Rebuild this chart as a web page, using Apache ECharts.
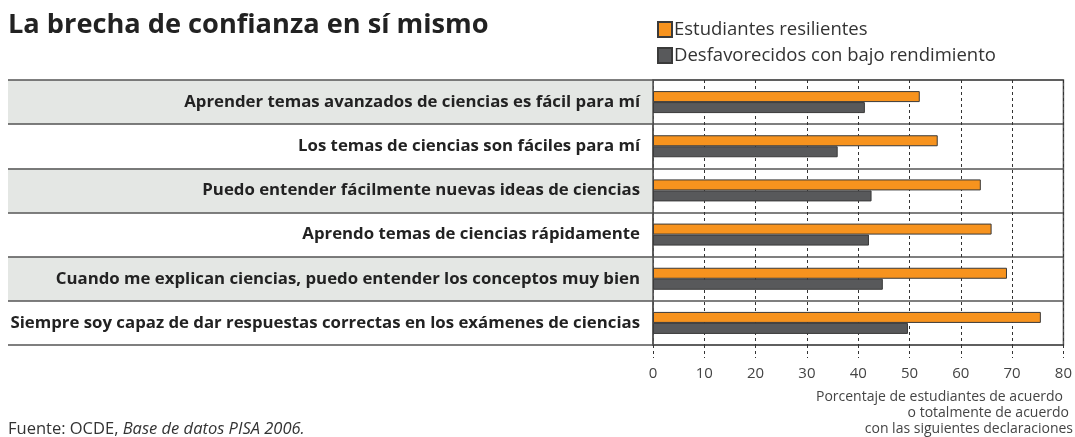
<!DOCTYPE html>
<html><head><meta charset="utf-8">
<script src="https://cdn.jsdelivr.net/npm/echarts@6/dist/echarts.min.js"></script>
<style>html,body{margin:0;padding:0;background:#fff}#c{width:1075px;height:437px}</style>
</head><body><div id="c"></div>
<script>
const categories = [
  "Aprender temas avanzados de ciencias es fácil para mí",
  "Los temas de ciencias son fáciles para mí",
  "Puedo entender fácilmente nuevas ideas de ciencias",
  "Aprendo temas de ciencias rápidamente",
  "Cuando me explican ciencias, puedo entender los conceptos muy bien",
  "Siempre soy capaz de dar respuestas correctas en los exámenes de ciencias"
];
const resilientes = [52.0, 55.5, 63.9, 66.0, 69.0, 75.6];
const desfavorecidos = [41.3, 36.0, 42.6, 42.1, 44.8, 49.7];
const seriesNames = ["Estudiantes resilientes", "Desfavorecidos con bajo rendimiento"];
const xTicks = [0, 80, 10];
const axisNameLines = ["Porcentaje de estudiantes de acuerdo", "o totalmente de acuerdo", "con las siguientes declaraciones"];

const FONT = "Open Sans";
const nameStyle = { fontFamily: FONT, fontWeight: 'normal', fontSize: 14, color: '#444' };
const chart = echarts.init(document.getElementById('c'));
chart.setOption({
  animation: false,
  textStyle: { fontFamily: FONT },
  title: [
    { text: "La brecha de confianza en sí mismo", left: 3, top: 7,
      textStyle: { fontFamily: FONT, fontWeight: 'bold', fontSize: 27.2, color: '#222' } },
    { text: axisNameLines[0], right: 12, top: 390, padding: 0, textStyle: nameStyle },
    { text: axisNameLines[1], right: 6, top: 406, padding: 0, textStyle: nameStyle },
    { text: axisNameLines[2], right: 2, top: 422, padding: 0, textStyle: nameStyle },
    { text: "{a|Fuente: OCDE, }{b|Base de datos PISA 2006.}", left: 8, top: 421, padding: 0,
      textStyle: { rich: { a: { fontFamily: FONT, fontWeight: 'normal', fontSize: 16.5, color: '#333' }, b: { fontFamily: FONT, fontWeight: 'normal', fontSize: 16.5, fontStyle: 'italic', color: '#333' } } } }
  ],
  legend: {
    left: 652, top: 15, orient: 'vertical', itemGap: 7,
    itemWidth: 14, itemHeight: 15, icon: 'rect',
    textStyle: { fontFamily: FONT, fontSize: 18.5, color: '#333', padding: [0, 0, 0, -3] },
    data: seriesNames
  },
  grid: [
    { left: 653, right: 10, top: 80, bottom: 92, show: true, borderColor: '#555', borderWidth: 1.5, backgroundColor: 'transparent' },
    { left: 8, right: 422, top: 80, bottom: 92 }
  ],
  xAxis: [
    { gridIndex: 0, type: 'value', min: xTicks[0], max: xTicks[1], interval: xTicks[2],
      axisLine: { show: false },
      axisTick: { show: true, length: 13, lineStyle: { color: '#333', type: [3, 3] } },
      axisLabel: { fontFamily: FONT, fontSize: 15, color: '#444', margin: 21 },
      splitLine: { show: true, lineStyle: { color: '#333', type: [3, 3], width: 1 } } },
    { gridIndex: 1, type: 'value', show: false, min: 0, max: 1 }
  ],
  yAxis: [
    { gridIndex: 0, type: 'category', inverse: true, data: categories,
      axisLine: { show: true, lineStyle: { color: '#555', width: 1.5 } },
      axisTick: { show: false },
      axisLabel: { fontFamily: FONT, fontWeight: 'bold', fontSize: 16.8, color: '#222', margin: 13 },
      splitLine: { show: true, lineStyle: { color: '#555', width: 1.5 } } },
    { gridIndex: 1, type: 'category', inverse: true, data: categories,
      axisLine: { show: false }, axisTick: { show: false }, axisLabel: { show: false },
      splitArea: { show: true, areaStyle: { color: ['#e4e7e4', 'rgba(255,255,255,0)'] } },
      splitLine: { show: true, lineStyle: { color: '#555', width: 1.5 } } }
  ],
  series: [
    { name: seriesNames[0], type: 'bar', xAxisIndex: 0, yAxisIndex: 0, data: resilientes,
      barWidth: 11, barGap: '0%',
      itemStyle: { color: '#f7931e', borderColor: '#3a3a3a', borderWidth: 1 } },
    { name: seriesNames[1], type: 'bar', xAxisIndex: 0, yAxisIndex: 0, data: desfavorecidos,
      barWidth: 11, barGap: '0%',
      itemStyle: { color: '#58595b', borderColor: '#3a3a3a', borderWidth: 1 } }
  ]
});
</script></body></html>
